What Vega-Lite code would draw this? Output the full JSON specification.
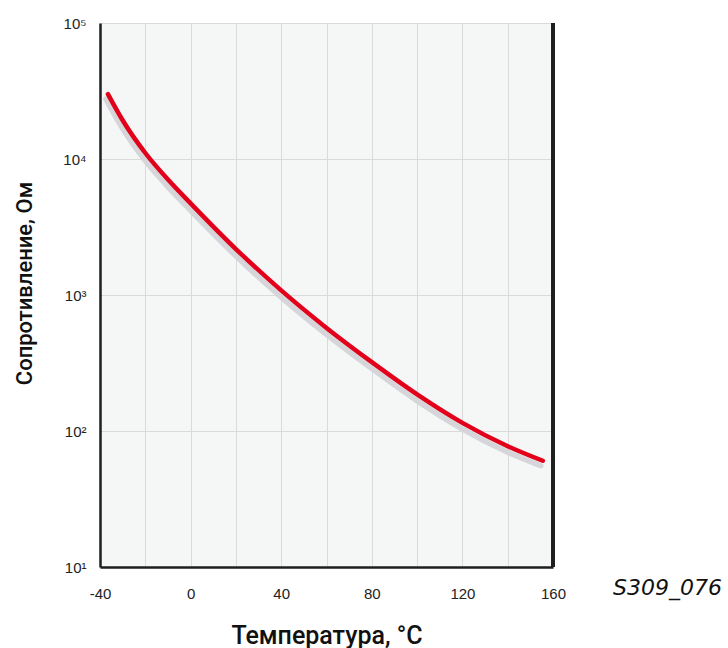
{
  "$schema": "https://vega.github.io/schema/vega-lite/v6.json",
  "width": 453,
  "height": 544,
  "autosize": "none",
  "padding": {"left": 100, "top": 23, "right": 175, "bottom": 81},
  "background": "white",
  "config": {"view": {"fill": "#f5f6f6", "stroke": null}},
  "data": {
    "values": [
      {"t": -36.5, "r": 30000},
      {"t": -30, "r": 19280},
      {"t": -20, "r": 11070},
      {"t": -10, "r": 7063},
      {"t": 0, "r": 4721},
      {"t": 20, "r": 2178},
      {"t": 40, "r": 1081},
      {"t": 60, "r": 573},
      {"t": 80, "r": 321},
      {"t": 100, "r": 186},
      {"t": 120, "r": 114.8},
      {"t": 140, "r": 77.3},
      {"t": 155.5, "r": 60.4}
    ]
  },
  "layer": [
    {
      "mark": {"type": "line", "color": "#d6d6da", "strokeWidth": 5.5, "strokeCap": "round", "interpolate": "monotone", "xOffset": -2, "yOffset": 5},
      "encoding": {
        "x": {
          "field": "t",
          "type": "quantitative",
          "scale": {"domain": [-40, 160], "nice": false, "zero": false},
          "axis": {
            "values": [-40, -20, 0, 20, 40, 60, 80, 100, 120, 140, 160],
            "labelExpr": "datum.value % 40 === 0 ? '' + datum.value : ''",
            "grid": true,
            "gridColor": "#dadada",
            "gridWidth": 1,
            "ticks": false,
            "domain": true,
            "domainColor": "#1e1e1e",
            "domainWidth": 2.5,
            "labelFont": "Liberation Sans",
            "labelFontSize": 15,
            "labelColor": "#222222",
            "labelPadding": 19,
            "labelFlush": false,
            "labelOverlap": false,
            "title": "Температура, °C",
            "titleFont": "Roboto",
            "titleFontSize": 25,
            "titleFontWeight": 500,
            "titleColor": "#111111",
            "titleBaseline": "alphabetic",
            "titleY": 76
          }
        },
        "y": {
          "field": "r",
          "type": "quantitative",
          "scale": {"type": "log", "domain": [10, 100000], "nice": false},
          "axis": {
            "values": [10, 100, 1000, 10000, 100000],
            "labelExpr": "'10' + ['⁰','¹','²','³','⁴','⁵'][round(log(datum.value) / LN10)]",
            "grid": true,
            "gridColor": "#dadada",
            "gridWidth": 1,
            "ticks": false,
            "domain": true,
            "domainColor": "#1e1e1e",
            "domainWidth": 2.5,
            "labelFont": "Liberation Sans",
            "labelFontSize": 15,
            "labelColor": "#222222",
            "labelPadding": 14,
            "labelBaseline": "middle",
            "labelFlush": false,
            "labelOverlap": false,
            "title": "Сопротивление, Ом",
            "titleFont": "Roboto",
            "titleFontSize": 22,
            "titleFontWeight": 500,
            "titleColor": "#111111",
            "titleBaseline": "alphabetic",
            "titleX": -69,
            "titleY": 260
          }
        }
      }
    },
    {
      "mark": {"type": "line", "color": "#e2001a", "strokeWidth": 4.5, "strokeCap": "round", "interpolate": "monotone"},
      "encoding": {
        "x": {"field": "t", "type": "quantitative"},
        "y": {"field": "r", "type": "quantitative"}
      }
    },
    {
      "mark": {"type": "rule", "color": "#1e1e1e", "strokeWidth": 2.5},
      "encoding": {"x": {"datum": 160, "type": "quantitative"}}
    },
    {
      "data": {"values": [{"label": "S309_076"}]},
      "mark": {"type": "text", "font": "DejaVu Sans", "fontStyle": "italic", "fontSize": 22, "color": "#111111", "align": "left", "baseline": "alphabetic", "dx": 60, "dy": 28},
      "encoding": {"x": {"datum": 160, "type": "quantitative"}, "y": {"datum": 10, "type": "quantitative"}, "text": {"field": "label", "type": "nominal"}}
    }
  ]
}
